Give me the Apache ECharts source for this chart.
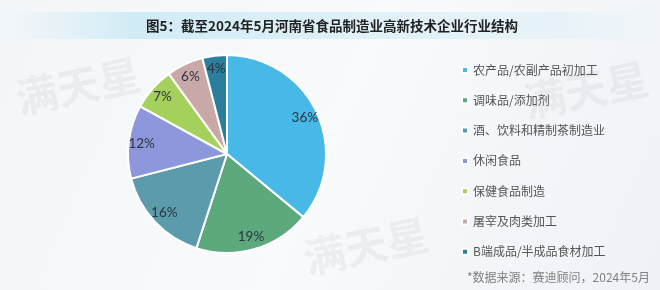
<!DOCTYPE html>
<html>
<head>
<meta charset="utf-8">
<script src="https://cdn.jsdelivr.net/npm/echarts@6/dist/echarts.min.js"></script>
<style>
html,body{margin:0;padding:0;background:#f5f8fa;}
#c{width:660px;height:290px;}
</style>
</head>
<body>
<div id="c"></div>
<script>
const titleText = '图5：截至2024年5月河南省食品制造业高新技术企业行业结构';
const sourceText = '*数据来源：赛迪顾问，2024年5月';
const categories = ['农产品/农副产品初加工','调味品/添加剂','酒、饮料和精制茶制造业','休闲食品','保健食品制造','屠宰及肉类加工','B端成品/半成品食材加工'];
const values = [36, 19, 16, 12, 7, 6, 4];
const colors = ['#48b8e6','#5ba97c','#5b9bab','#8f97dc','#a5d05c','#c9a9a8','#2b7e9c'];

const chart = echarts.init(document.getElementById('c'));
const pieData = categories.map((n, i) => ({name: n, value: values[i], itemStyle: {color: colors[i]}}));
const labelData = categories.map((n, i) => ({name: n, value: values[i]}));

const wm = (x, y) => ({
  type: 'text', x: x, y: y, rotation: 0.2, silent: true, z: 100,
  style: {text: '满天星', fontSize: 42, fontWeight: 'bold', fill: 'rgba(120,120,120,0.08)', fontFamily: 'Noto Sans CJK SC'}
});

chart.setOption({
  backgroundColor: {type: 'linear', x: 0, y: 0, x2: 1, y2: 1, colorStops: [{offset: 0, color: '#f3f6f9'}, {offset: 0.5, color: '#f8fafc'}, {offset: 1, color: '#eef2f6'}]},
  animation: false,
  graphic: [
    {type: 'rect', shape: {x: 0, y: 12, width: 660, height: 27}, silent: true, z: 0,
      style: {fill: {type: 'linear', x: 0, y: 0, x2: 1, y2: 0, colorStops: [
        {offset: 0, color: 'rgba(215,236,245,0)'},
        {offset: 0.2, color: 'rgba(205,234,245,0.9)'},
        {offset: 0.5, color: 'rgba(222,240,247,1)'},
        {offset: 0.85, color: 'rgba(228,242,248,0.8)'},
        {offset: 1, color: 'rgba(230,242,248,0)'}]}}},
    {type: 'text', x: 332, y: 26, z: 10,
      style: {text: titleText, fontSize: 13.5, fontWeight: 'bold', fill: '#222', align: 'center', verticalAlign: 'middle', fontFamily: 'Noto Sans CJK SC'}},
    {type: 'text', x: 467, y: 277, z: 10,
      style: {text: sourceText, fontSize: 12, fill: '#808080', verticalAlign: 'middle', fontFamily: 'Noto Sans CJK SC'}},
    wm(12, 78), wm(520, 82), wm(300, 238)
  ],
  legend: {
    orient: 'vertical', left: 456, top: 58,
    icon: 'rect', itemWidth: 6, itemHeight: 6, itemGap: 16.3,
    data: categories,
    textStyle: {fontSize: 12, color: '#555', lineHeight: 14, fontFamily: 'Noto Sans CJK SC'}
  },
  series: [
    {
      type: 'pie', center: [227, 154], radius: [0, 99], startAngle: 90, clockwise: true,
      data: pieData, label: {show: false}, labelLine: {show: false},
      itemStyle: {borderColor: '#fff', borderWidth: 2},
      emphasis: {disabled: true}
    },
    {
      type: 'pie', center: [227, 154], radius: [0, 166], startAngle: 90, clockwise: true,
      data: labelData, silent: true, legendHoverLink: false,
      itemStyle: {color: 'rgba(0,0,0,0)', borderWidth: 0},
      label: {show: true, position: 'inside', formatter: '{c}%', fontSize: 13.5, color: '#2c3440', fontFamily: 'Lato'},
      labelLine: {show: false}, emphasis: {disabled: true}, z: 5
    }
  ]
});
</script>
</body>
</html>
